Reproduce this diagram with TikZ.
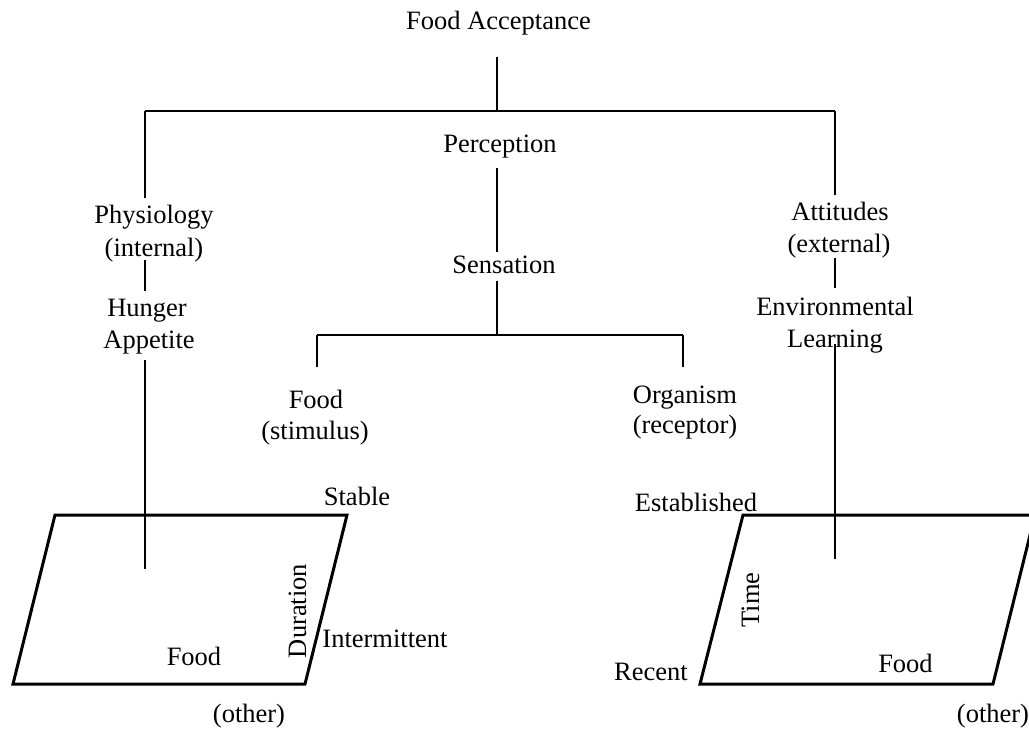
\documentclass[tikz,border=0pt]{standalone}
\usepackage{fontspec}
\setmainfont{Liberation Serif}
\begin{document}
\begin{tikzpicture}[x=0.5pt,y=-0.5pt,
  lbl/.style={inner sep=0pt, anchor=base, text height=9.14pt, text depth=2.9pt,
              font=\fontsize{13.25pt}{16pt}\selectfont},
  link/.style={line width=0.65pt},
  frame/.style={line width=1.5pt, line join=miter}]
\useasboundingbox (0,0) rectangle (1029,729);
\clip (0,0) rectangle (1029,729);

% hierarchy labels
\node[lbl] (fa)   at (498.5,29) {Food Acceptance};
\node[lbl] (perc) at (500,152)  {Perception};
\node[lbl] (sens) at (504,273)  {Sensation};
\node[lbl] (phys) at (154,223)  {Physiology};
\node[lbl] (int)  at (154,256)  {(internal)};
\node[lbl] (hun)  at (147,316)  {Hunger};
\node[lbl] (app)  at (149,348)  {Appetite};
\node[lbl] (att)  at (840,220)  {Attitudes};
\node[lbl] (ext)  at (839,252)  {(external)};
\node[lbl] (env)  at (835,315)  {Environmental};
\node[lbl] (lrn)  at (835,347)  {Learning};
\node[lbl] (food) at (316,408)  {Food};
\node[lbl] (stim) at (315,439)  {(stimulus)};
\node[lbl] (org)  at (685,403)  {Organism};
\node[lbl] (rec)  at (685,433)  {(receptor)};

% junction points
\coordinate (j0)  at (497,111);
\coordinate (jl)  at (145,111);
\coordinate (jr)  at (835,111);
\coordinate (js)  at (497,335);
\coordinate (jsl) at (317,335);
\coordinate (jsr) at (683,335);
\coordinate (lend) at (145,569);
\coordinate (rend) at (835,559);

% tree connectors
\draw[link, shorten <=11.1pt] (fa.south -| j0) -- (j0);
\draw[link] (jl) -- (jr);
\draw[link, shorten >=3.35pt] (jl) -- (jl |- phys.north);
\draw[link, shorten >=3.35pt] (jr) -- (jr |- att.north);
\draw[link, shorten <=5.1pt, shorten >=1.35pt] (perc.south -| j0) -- (sens.north -| j0);
\draw[link, shorten <=1.1pt] (sens.south -| js) -- (js);
\draw[link] (jsl) -- (jsr);
\draw[link, shorten >=11.35pt] (jsl) -- (jsl |- food.north);
\draw[link, shorten >=8.85pt] (jsr) -- (jsr |- org.north);
\draw[link, shorten <=-0.9pt, shorten >=3.35pt] (int.south -| jl) -- (hun.north -| jl);
\draw[link, shorten <=3.1pt] (app.south -| lend) -- (lend);
\draw[link, shorten >=4.35pt] (ext.south -| jr) -- (env.north -| jr);
\draw[link, shorten <=-4.4pt] (lrn.south -| rend) -- (rend);

% left plane: food vs duration
\draw[frame] (55,515) -- (347,515) -- (305,684) -- (13,684) -- cycle;
\node[lbl] (stable) at (357,505) {Stable};
\node[lbl, rotate=90] (dur) at (306,611) {Duration};
\node[lbl] (inter)  at (385,647) {Intermittent};
\node[lbl] (lfood)  at (194,665) {Food};
\node[lbl] (lother) at (249,722) {(other)};

% right plane: food vs time
\draw[frame] (743,515) -- (1035,515) -- (993,684) -- (700,684) -- cycle;
\node[lbl] (est)    at (696,511) {Established};
\node[lbl, rotate=90] (time) at (759,600) {Time};
\node[lbl] (recent) at (651,680) {Recent};
\node[lbl] (rfood)  at (905.5,672) {Food};
\node[lbl] (rother) at (993,722) {(other)};
\end{tikzpicture}
\end{document}
